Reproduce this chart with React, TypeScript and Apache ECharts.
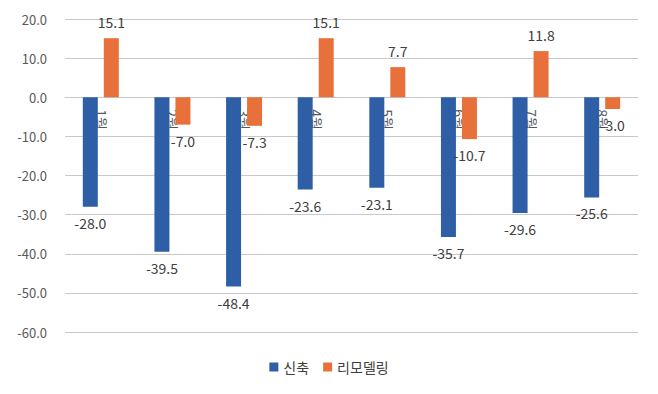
import React, { useEffect, useRef } from "react";
import * as echarts from "echarts";

const categories = ["1월", "2월", "3월", "4월", "5월", "6월", "7월", "8월"];
const newBuild = [-28.0, -39.5, -48.4, -23.6, -23.1, -35.7, -29.6, -25.6];
const remodel = [15.1, -7.0, -7.3, 15.1, 7.7, -10.7, 11.8, -3.0];
const seriesNames = ["신축", "리모델링"];

const FONT = "'Noto Sans CJK KR', 'Noto Sans', sans-serif";
const Y_MIN = -60;
const Y_MAX = 20;
const GRID_TOP = 19;
const GRID_BOTTOM = 62;
const HEIGHT = 394;

export default function App() {
  const ref = useRef<HTMLDivElement>(null);
  useEffect(() => {
    if (!ref.current) return;
    const chart = echarts.init(ref.current, undefined, { renderer: "svg" });
    const plotH = HEIGHT - GRID_TOP - GRID_BOTTOM;
    const zeroOffset = (plotH * (0 - Y_MIN)) / (Y_MAX - Y_MIN);
    const labelStyle = {
      show: true,
      position: "outside" as const,
      distance: 9,
      color: "#404040",
      fontSize: 14,
      fontFamily: FONT,
      formatter: (p: any) => Number(p.value).toFixed(1),
    };
    chart.setOption({
      animation: false,
      textStyle: { fontFamily: FONT },
      grid: { left: 65, right: 20, top: GRID_TOP, bottom: GRID_BOTTOM, containLabel: false },
      legend: {
        bottom: 15,
        left: "center",
        itemWidth: 9,
        itemHeight: 9,
        itemGap: 14,
        icon: "rect",
        textStyle: { color: "#404040", fontSize: 14, fontFamily: FONT },
        data: seriesNames,
      },
      xAxis: {
        type: "category",
        data: categories,
        offset: -zeroOffset,
        axisLine: { show: true, onZero: false, lineStyle: { color: "#C8C8C8" } },
        axisTick: { show: false },
        axisLabel: {
          rotate: -90,
          color: "#595959",
          fontSize: 14,
          fontFamily: FONT,
          margin: 12,
        },
        z: 0,
      },
      yAxis: {
        type: "value",
        min: Y_MIN,
        max: Y_MAX,
        interval: 10,
        axisLine: { show: false },
        axisTick: { show: false },
        splitLine: { lineStyle: { color: "#C8C8C8", width: 1 } },
        axisLabel: {
          color: "#595959",
          fontSize: 13,
          fontFamily: FONT,
          margin: 18,
          formatter: (v: number) => v.toFixed(1),
        },
      },
      series: [
        {
          name: seriesNames[0],
          type: "bar",
          data: newBuild,
          barWidth: 15,
          barGap: "40%",
          itemStyle: { color: "#2E5FA6" },
          label: labelStyle,
          z: 3,
        },
        {
          name: seriesNames[1],
          type: "bar",
          data: remodel,
          barWidth: 15,
          barGap: "40%",
          itemStyle: { color: "#E8703A" },
          label: labelStyle,
          z: 3,
        },
      ],
    });
    return () => chart.dispose();
  }, []);
  return <div ref={ref} style={{ width: 658, height: 394, position: "absolute", left: 0, top: 0 }} />;
}
